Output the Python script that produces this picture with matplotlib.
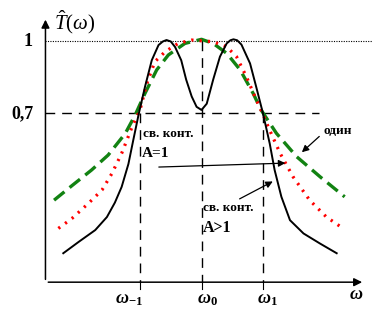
import matplotlib
matplotlib.use("Agg")
import matplotlib.pyplot as plt

plt.rcParams['mathtext.fontset'] = 'custom'
plt.rcParams['mathtext.rm'] = 'Liberation Serif'
plt.rcParams['mathtext.it'] = 'Liberation Serif:italic'
plt.rcParams['mathtext.bf'] = 'Liberation Serif:bold'
plt.rcParams['mathtext.bfit'] = 'Liberation Serif:bold:italic'

# curves (x in units of omega_1 - omega_0, omega_0 = 0)
black_x = [-2.25, -2.0, -1.73, -1.54, -1.41, -1.30, -1.19, -1.11, -1.02, -0.92, -0.81,
           -0.70, -0.63, -0.57, -0.50, -0.43, -0.33, -0.25, -0.16, -0.08, 0.0, 0.085,
           0.19, 0.30, 0.41, 0.47, 0.52, 0.58, 0.65, 0.79, 0.89, 1.0, 1.11, 1.19, 1.30,
           1.44, 1.66, 1.93, 2.20]
black_y = [0.12, 0.167, 0.216, 0.27, 0.33, 0.395, 0.49, 0.59, 0.70, 0.81, 0.92,
           0.983, 0.998, 1.004, 0.998, 0.975, 0.92, 0.84, 0.77, 0.727, 0.714, 0.74,
           0.84, 0.935, 0.99, 1.003, 1.007, 1.003, 0.985, 0.907, 0.81, 0.70, 0.575, 0.465,
           0.354, 0.257, 0.202, 0.16, 0.12]

red_x = [-2.33, -2.11, -1.84, -1.62, -1.46, -1.30, -1.13, -1.0, -0.89, -0.76, -0.59,
         -0.38, -0.16, 0.19, 0.41, 0.57, 0.73, 0.87, 0.98, 1.11, 1.28, 1.49, 1.76,
         2.03, 2.28]
red_y = [0.223, 0.264, 0.327, 0.382, 0.45, 0.534, 0.644, 0.715, 0.824, 0.914, 0.956,
         0.99, 1.004, 0.997, 0.976, 0.935, 0.852, 0.769, 0.707, 0.63, 0.534, 0.437, 0.34,
         0.271, 0.227]

green_x = [-2.40, -2.11, -1.79, -1.52, -1.24, -1.08, -0.92, -0.73, -0.54, -0.27, 0.0,
           0.19, 0.41, 0.63, 0.84, 0.97, 1.22, 1.55, 1.93, 2.33]
green_y = [0.34, 0.40, 0.465, 0.527, 0.617, 0.693, 0.783, 0.88, 0.942, 0.99, 1.007,
           0.99, 0.949, 0.88, 0.783, 0.714, 0.617, 0.52, 0.437, 0.354]

omega_ticks = [-1.0, 0.0, 1.0]
omega_labels = [r'$\boldsymbol{\omega}_{\mathbf{-1}}$', r'$\boldsymbol{\omega}_{\mathbf{0}}$',
                r'$\boldsymbol{\omega}_{\mathbf{1}}$']

fig = plt.figure(figsize=(3.76, 3.28), dpi=100)
ax = fig.add_axes([0, 0, 1, 1])
ax.set_xlim(-3.28, 2.84)
ax.set_ylim(-0.19, 1.17)
ax.axis('off')

y_axis_x = -2.54

# axes with arrows
ax.annotate('', xy=(y_axis_x, 1.10), xytext=(y_axis_x, 0.0),
            arrowprops=dict(arrowstyle='-|>', color='black', lw=1.1, mutation_scale=12))
ax.annotate('', xy=(2.66, 0.0), xytext=(y_axis_x, 0.0),
            arrowprops=dict(arrowstyle='-|>', color='black', lw=1.1, mutation_scale=12))

# reference lines
ax.plot([y_axis_x, 2.78], [1, 1], color='black', lw=0.8, ls=(0, (1, 1.2)))
ax.plot([y_axis_x, 1.92], [0.7, 0.7], color='black', lw=1.0, ls=(0, (7, 5)))
ax.plot([0, 0], [1, 0], color='black', lw=1.0, ls=(0, (7, 5)))
ax.plot([-1, -1], [0.7, 0], color='black', lw=1.0, ls=(0, (7, 5)))
ax.plot([1, 1], [0.7, 0], color='black', lw=1.0, ls=(0, (7, 5)))
for t in omega_ticks:
    ax.plot([t, t], [0.0, -0.03], color='black', lw=0.8)

# curves
ax.plot(green_x, green_y, color='#128212', lw=2.4, ls=(0, (4, 2)))
ax.plot(red_x, red_y, color='#ff0000', lw=2.3, ls=(0, (0.7, 1.9)))
ax.plot(black_x, black_y, color='black', lw=1.4, solid_joinstyle='round')

# labels
ax.text(-2.82, 1.0, '1', fontsize=13, fontweight='bold', family='Liberation Serif',
        ha='center', va='center')
ax.text(-2.92, 0.7, '0,7', fontsize=13, fontweight='bold', family='Liberation Serif',
        ha='center', va='center')
ax.text(-2.06, 1.08, r'$\hat{T}(\omega)$', fontsize=15, ha='center', va='center')
for t, lab, dx in zip(omega_ticks, omega_labels, [-0.18, 0.09, 0.07]):
    ax.text(t + dx, -0.07, lab, fontsize=13, ha='center', va='center')
ax.text(2.51, -0.05, r'$\boldsymbol{\omega}$', fontsize=13, ha='center', va='center')

ax.text(-0.95, 0.614, 'св. конт.', fontsize=9.5, fontweight='bold', family='Liberation Serif',
        ha='left', va='center')
ax.text(-0.97, 0.535, 'A=1', fontsize=11, fontweight='bold', family='Liberation Serif',
        ha='left', va='center')
ax.text(0.02, 0.307, 'св. конт.', fontsize=9.5, fontweight='bold', family='Liberation Serif',
        ha='left', va='center')
ax.text(0.02, 0.225, 'A>1', fontsize=11.5, fontweight='bold', family='Liberation Serif',
        ha='left', va='center')
ax.text(1.98, 0.627, 'один', fontsize=9.5, fontweight='bold', family='Liberation Serif',
        ha='left', va='center')

# pointer arrows
arrow_kw = dict(arrowstyle='-|>', color='black', lw=0.9, mutation_scale=10)
ax.annotate('', xy=(1.60, 0.531), xytext=(1.95, 0.612), arrowprops=arrow_kw)
ax.annotate('', xy=(1.41, 0.494), xytext=(-0.74, 0.477), arrowprops=arrow_kw)
ax.annotate('', xy=(1.20, 0.423), xytext=(0.58, 0.34), arrowprops=arrow_kw)

fig.savefig('out.png', dpi=100)
